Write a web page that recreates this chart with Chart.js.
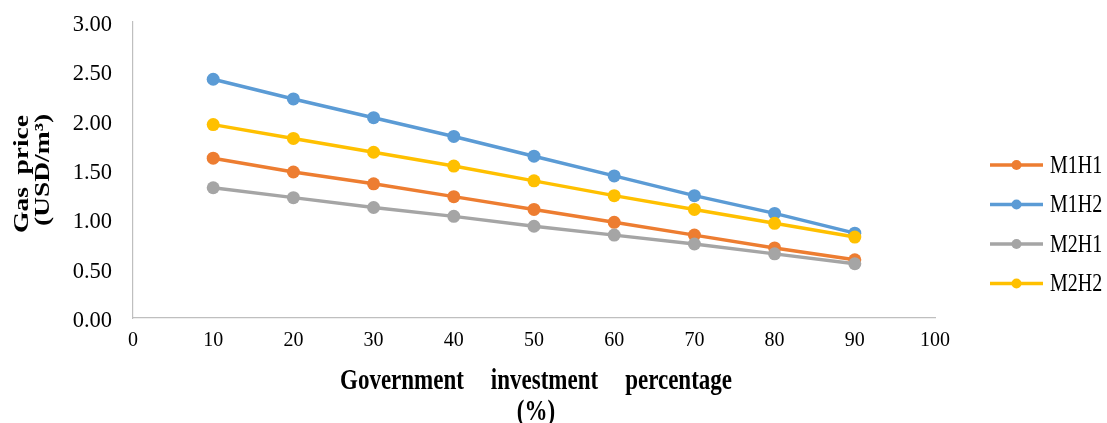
<!DOCTYPE html>
<html>
<head>
<meta charset="utf-8">
<script src="https://cdn.jsdelivr.net/npm/chart.js@4/dist/chart.umd.min.js"></script>
<style>
  html, body { margin: 0; padding: 0; background: #ffffff; }
  #wrap { width: 1107px; height: 423px; position: relative; }
</style>
</head>
<body>
<div id="wrap"><canvas id="c" width="1107" height="423"></canvas></div>
<script>
// Government investment share (%)
const investment = [10, 20, 30, 40, 50, 60, 70, 80, 90];

// Gas price (USD/m3) per scenario
const m1h1 = [1.62, 1.48, 1.36, 1.23, 1.10, 0.97, 0.84, 0.71, 0.59];
const m1h2 = [2.42, 2.22, 2.03, 1.84, 1.64, 1.44, 1.24, 1.06, 0.86];
const m2h1 = [1.32, 1.22, 1.12, 1.03, 0.93, 0.84, 0.75, 0.65, 0.55];
const m2h2 = [1.96, 1.82, 1.68, 1.54, 1.39, 1.24, 1.10, 0.96, 0.82];

const seriesNames = ['M1H1', 'M1H2', 'M2H1', 'M2H2'];
const seriesValues = [m1h1, m1h2, m2h1, m2h2];
const seriesColors = ['#ED7D31', '#5B9BD5', '#A5A5A5', '#FFC000'];

// Axis titles
const xTitleLines = ['Government investment percentage', '(%)'];
const yTitleLines = ['Gas price', '(USD/m³)'];

const FONT = "'Liberation Serif', 'Times New Roman', serif";
const TEXT_STRETCH = 1.25; // tall, narrow serif lettering

const datasets = seriesNames.map((name, i) => ({
  label: name,
  data: investment.map((x, j) => ({ x: x, y: seriesValues[i][j] })),
  borderColor: seriesColors[i],
  backgroundColor: seriesColors[i],
  pointBackgroundColor: seriesColors[i],
  pointBorderColor: seriesColors[i],
  borderWidth: 3.5,
  pointRadius: 6.5,
  pointBorderWidth: 0,
  pointHoverRadius: 6.5,
  tension: 0,
  order: seriesNames.length - i
}));

// Writes one line of text stretched by (sx, sy), widening the word gaps
// so the finished line is `length` pixels long.
function stretchedText(ctx, text, length, sx, sy) {
  const plain = ctx.measureText(text).width;
  const gaps = (text.match(/ /g) || []).length;
  const along = sx;
  if (gaps > 0 && 'wordSpacing' in ctx) {
    const extra = Math.max(0, (length / along - plain) / gaps);
    ctx.wordSpacing = extra.toFixed(1) + 'px';
  }
  ctx.scale(sx, sy);
  ctx.fillText(text, 0, 0);
}

// Axis titles in bold, centred on the plot area
const axisTitles = {
  id: 'axisTitles',
  afterDraw(chart) {
    const { ctx, chartArea } = chart;
    const cx = (chartArea.left + chartArea.right) / 2;
    const cy = (chartArea.top + chartArea.bottom) / 2;
    ctx.save();
    ctx.fillStyle = '#000000';
    ctx.textAlign = 'center';
    ctx.textBaseline = 'middle';

    // horizontal title below the x axis
    ctx.font = 'bold 23px ' + FONT;
    ctx.save();
    ctx.translate(cx + 2, 382);
    stretchedText(ctx, xTitleLines[0], 392, 1, TEXT_STRETCH);
    ctx.restore();

    ctx.save();
    ctx.translate(cx + 2, 413);
    ctx.scale(1, TEXT_STRETCH);
    ctx.fillText(xTitleLines[1], 0, 0);
    ctx.restore();

    // rotated title left of the y axis
    ctx.font = 'bold 22px ' + FONT;
    ctx.save();
    ctx.translate(22, cy + 4);
    ctx.rotate(-Math.PI / 2);
    stretchedText(ctx, yTitleLines[0], 118, TEXT_STRETCH, 1);
    ctx.restore();

    ctx.save();
    ctx.translate(43, cy);
    ctx.rotate(-Math.PI / 2);
    stretchedText(ctx, yTitleLines[1], 115, TEXT_STRETCH, 1);
    ctx.restore();

    ctx.restore();
  }
};

// Legend on the right: short line with a centred marker, then the name
const sideLegend = {
  id: 'sideLegend',
  afterDraw(chart) {
    const ctx = chart.ctx;
    ctx.save();
    chart.data.datasets.forEach((ds, i) => {
      const y = 165 + i * 39.5;
      ctx.strokeStyle = ds.borderColor;
      ctx.lineWidth = 3.5;
      ctx.beginPath();
      ctx.moveTo(990, y);
      ctx.lineTo(1043, y);
      ctx.stroke();
      ctx.fillStyle = ds.borderColor;
      ctx.beginPath();
      ctx.arc(1016.5, y, 5, 0, Math.PI * 2);
      ctx.fill();
      ctx.save();
      ctx.fillStyle = '#000000';
      ctx.font = "20px " + FONT;
      ctx.textAlign = 'left';
      ctx.textBaseline = 'middle';
      ctx.translate(1050, y + 1);
      ctx.scale(1, TEXT_STRETCH);
      ctx.fillText(ds.label, 0, 0);
      ctx.restore();
    });
    ctx.restore();
  }
};

new Chart(document.getElementById('c'), {
  type: 'line',
  data: { datasets: datasets },
  options: {
    responsive: false,
    animation: false,
    layout: { padding: { left: 0, right: 172, top: 22, bottom: 0 } },
    plugins: {
      legend: { display: false },
      tooltip: { enabled: false }
    },
    scales: {
      x: {
        type: 'linear',
        min: 0,
        max: 100,
        grid: { display: false, drawTicks: false },
        border: { display: true, color: '#BFBFBF', width: 1.2 },
        ticks: {
          stepSize: 10,
          padding: 11,
          color: '#000000',
          font: { family: FONT, size: 20 },
          maxRotation: 0
        },
        title: { display: false },
        afterFit(s) { s.height = 105; }
      },
      y: {
        min: 0,
        max: 3,
        grid: { display: false, drawTicks: false },
        border: { display: true, color: '#BFBFBF', width: 1.2 },
        ticks: {
          stepSize: 0.5,
          padding: 21,
          labelOffset: 3,
          color: '#000000',
          font: { family: FONT, size: 22.5 },
          callback: (v) => Number(v).toFixed(2)
        },
        title: { display: false },
        afterFit(s) {
          s.width = 133;
          s.paddingTop = 0;
          s.paddingBottom = 0;
        }
      }
    }
  },
  plugins: [axisTitles, sideLegend]
});
</script>
</body>
</html>
